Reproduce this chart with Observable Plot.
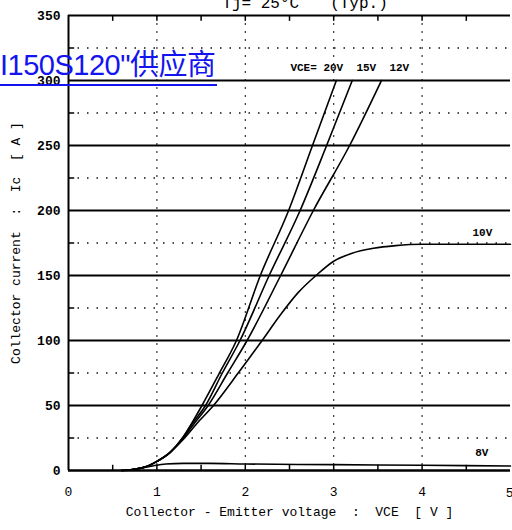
<!DOCTYPE html>
<html><head><meta charset="utf-8">
<script src="https://cdn.jsdelivr.net/npm/d3@7"></script>
<script src="https://cdn.jsdelivr.net/npm/@observablehq/plot@0.6"></script>
<style>
body{margin:0;background:#fff;}
#wrap{position:relative;width:512px;height:530px;overflow:hidden;}
#chart svg text{white-space:pre;}
#wm{position:absolute;left:0;top:51px;font-family:"Liberation Sans","Noto Sans CJK SC",sans-serif;font-size:29px;color:#1414f0;white-space:nowrap;letter-spacing:-0.5px;line-height:1;}
#wmline{position:absolute;left:0;top:84px;width:217px;height:2px;background:#1414f0;}
</style></head><body>
<div id="wrap"><div id="chart"></div><div id="wm">I150S120"供应商</div><div id="wmline"></div></div>
<script>
// Tick values
const xTickValues = [0, 1, 2, 3, 4];
const xLastTick = [5];
const xMinorTicks = [0.5, 1, 1.5, 2, 2.5, 3, 3.5, 4, 4.5];
const yTickValues = [0, 50, 100, 150, 200, 250, 300, 350];
const yMajorGrid = [50, 100, 150, 200, 250, 300];
const yMinorGrid = [25, 75, 125, 175, 225, 275, 325];
const xGrid = [1, 2, 3, 4];

// Series: VGE curves (VCE [V], Ic [A])
const v20 = [0.6, 0.75, 0.9, 1.0, 1.15, 1.3, 1.4, 1.51, 1.7, 1.9, 2.17, 2.49, 2.76, 3.03];
const i20 = [0, 1, 3.5, 7, 14, 26, 37, 50, 74, 100, 150, 200, 250, 300];
const v15 = [0.6, 0.75, 0.9, 1.0, 1.15, 1.3, 1.4, 1.55, 1.74, 1.94, 2.27, 2.62, 2.92, 3.21];
const i15 = [0, 1, 3.5, 7, 14, 26, 36, 50, 75, 100, 150, 200, 250, 300];
const v12 = [0.6, 0.75, 0.9, 1.0, 1.15, 1.3, 1.42, 1.58, 1.8, 2.02, 2.4, 2.77, 3.18, 3.54];
const i12 = [0, 1, 3.5, 7, 14, 25, 36, 50, 75, 100, 150, 200, 250, 300];
const v10 = [0.6, 0.75, 0.9, 1.0, 1.15, 1.3, 1.45, 1.64, 1.92, 2.19, 2.4, 2.6, 2.8, 3.0, 3.2, 3.45, 3.7, 4.0, 4.5, 5.0];
const i10 = [0, 1, 3.5, 7, 14, 24, 36, 50, 75, 100, 120, 137, 150, 161, 167, 171, 173, 174, 174, 174];
const v8 = [0.65, 0.8, 0.95, 1.1, 1.3, 1.6, 2.0, 3.0, 4.0, 5.0];
const i8 = [0, 1.5, 3.5, 5, 5.5, 5.5, 5, 4.5, 4, 3.5];
const seriesNames = ["20V", "15V", "12V", "10V", "8V"];
const seriesV = [v20, v15, v12, v10, v8];
const seriesI = [i20, i15, i12, i10, i8];

const rows = seriesNames.flatMap((s, k) => seriesV[k].map((v, j) => ({s, v, i: seriesI[k][j]})));

const mono = "'Liberation Mono','DejaVu Sans Mono',monospace";
const xLabel = "Collector - Emitter voltage  :  VCE  [ V ]";
const yLabel = "Collector current  :  Ic  [ A ]";

const chart = Plot.plot({
  width: 512, height: 530,
  marginLeft: 68, marginRight: 2, marginTop: 15, marginBottom: 60,
  style: {fontFamily: mono, background: "#fff", color: "#000"},
  x: {domain: [0, 5], axis: null},
  y: {domain: [0, 350], axis: null},
  marks: [
    Plot.ruleY(yMinorGrid, {stroke: "#111", strokeWidth: 1.3, strokeDasharray: "1.5,8"}),
    Plot.ruleX(xGrid, {stroke: "#222", strokeWidth: 1.1, strokeDasharray: "2,6"}),
    Plot.ruleY(yMajorGrid, {stroke: "#000", strokeWidth: 2}),
    Plot.ruleY([350], {stroke: "#000", strokeWidth: 2}),
    Plot.ruleY([0], {stroke: "#000", strokeWidth: 2.5}),
    Plot.ruleX([0], {stroke: "#000", strokeWidth: 2}),
    Plot.ruleX(xMinorTicks, {y1: 350, y2: 345.5, stroke: "#000", strokeWidth: 1.5}),
    Plot.ruleX(xMinorTicks, {y1: 0, y2: 4, stroke: "#000", strokeWidth: 1.5}),
    Plot.ruleY(yMinorGrid, {x1: 0, x2: 0.07, stroke: "#000", strokeWidth: 1.5}),
    Plot.line(rows, {x: "v", y: "i", z: "s", curve: "monotone-x", stroke: "#000", strokeWidth: 1.6}),
    Plot.axisY(yTickValues, {tickSize: 0, tickPadding: 8, fontSize: 13, fontWeight: "bold", fontFamily: mono, label: null}),
    Plot.axisX(xTickValues, {tickSize: 0, tickPadding: 16, fontSize: 13, fontFamily: mono, label: null}),
    Plot.text(xLastTick, {x: d => d, y: 0, dy: 22, textAnchor: "end", dx: 3, fontSize: 13, fontFamily: mono}),
    Plot.text([xLabel], {frameAnchor: "bottom", dy: 45, fontSize: 13, fontFamily: mono}),
    Plot.text([yLabel], {frameAnchor: "left", textAnchor: "middle", rotate: -90, dx: -53, fontSize: 13, fontFamily: mono}),
    Plot.text(["VCE= 20V  15V  12V"], {x: 2.51, y: 310, textAnchor: "start", fontSize: 11, fontWeight: "bold", fontFamily: mono}),
    Plot.text(["10V"], {x: 4.57, y: 183, textAnchor: "start", fontSize: 11, fontWeight: "bold", fontFamily: mono}),
    Plot.text(["8V"], {x: 4.6, y: 14, textAnchor: "start", fontSize: 11, fontWeight: "bold", fontFamily: mono}),
    Plot.text(["Tj= 25°C"], {x: 1.74, y: 350, dy: -8, lineAnchor: "bottom", textAnchor: "start", fontSize: 16, fontFamily: mono}),
    Plot.text(["(Typ.)"], {x: 2.96, y: 350, dy: -8, lineAnchor: "bottom", textAnchor: "start", fontSize: 16, fontFamily: mono})
  ]
});
document.getElementById("chart").appendChild(chart);
</script>
</body></html>
